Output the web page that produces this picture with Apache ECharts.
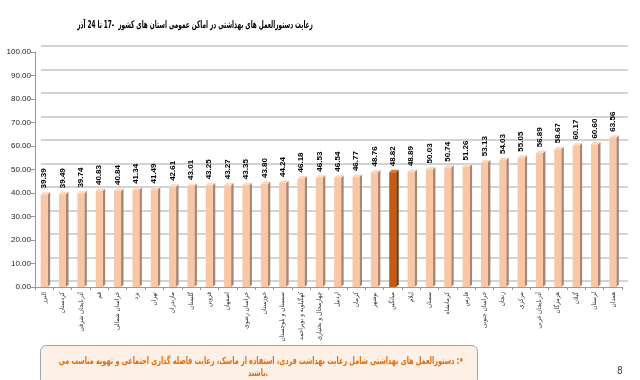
<!DOCTYPE html>
<html><head><meta charset="utf-8">
<script src="https://cdn.jsdelivr.net/npm/echarts@6/dist/echarts.min.js"></script>
<style>html,body{margin:0;padding:0;background:#fff}#c{width:640px;height:380px}</style>
</head><body><div id="c"></div>
<script>
const titleText = 'رعایت دستورالعمل های بهداشتی در اماکن عمومی استان های کشور  -17 تا 24 آذر';
const noteLine1 = '•: دستورالعمل های بهداشتی شامل رعایت بهداشت فردی، استفاده از ماسک، رعایت فاصله گذاری اجتماعی و تهویه مناسب می';
const noteLine2 = 'باشند.';
const pageNumber = '8';
const categories = ['البرز','کردستان','آذربایجان شرقی','قم','خراسان شمالی','یزد','تهران','مازندران','گلستان','قزوین','اصفهان','خراسان رضوی','خوزستان','سیستان و بلوچستان','کهگیلویه و بویراحمد','چهارمحال و بختیاری','اردبیل','کرمان','بوشهر','میانگین','ایلام','سمنان','کرمانشاه','فارس','خراسان جنوبی','زنجان','مرکزی','آذربایجان غربی','هرمزگان','گیلان','لرستان','همدان'];
const values = [39.39,39.49,39.74,40.83,40.84,41.34,41.49,42.61,43.01,43.25,43.27,43.35,43.80,44.24,46.18,46.53,46.54,46.77,48.76,48.82,48.89,50.03,50.74,51.26,53.13,54.03,55.05,56.89,58.67,60.17,60.60,63.56];
const highlightCategory = 'میانگین';
const yTicks = {min:0, max:100, interval:10};

const FRONT = '#f9c7a5', SIDE = '#a98672', TOP = '#fbd9c2';
const HFRONT = '#c55a11', HSIDE = '#7a3608', HTOP = '#d9782f';
const FONT = '"DejaVu Sans Condensed", "DejaVu Sans", sans-serif';
const RLM = '\u200F';

const chart = echarts.init(document.getElementById('c'), null, {renderer:'canvas'});
const barData = values.map((v,i)=>({value:v, itemStyle:{color: categories[i]===highlightCategory?HFRONT:FRONT}}));

chart.setOption({
  animation:false,
  textStyle:{fontFamily:FONT},
  grid:[
    {left:35, right:18, top:52, bottom:93},
    {left:41, right:12, top:46, bottom:99}
  ],
  xAxis:[
    {type:'category', data:categories, gridIndex:0,
      axisLine:{show:true, lineStyle:{color:'#999'}},
      axisTick:{show:true, alignWithLabel:false, length:3, lineStyle:{color:'#999'}},
      axisLabel:{rotate:90, interval:0, fontSize:6.5, color:'#333', margin:5, fontFamily:FONT,
        formatter:v=>RLM+v}},
    {type:'category', data:categories, gridIndex:1, show:false}
  ],
  yAxis:[
    {type:'value', gridIndex:0, min:yTicks.min, max:yTicks.max, interval:yTicks.interval,
      axisLine:{show:true, lineStyle:{color:'#999'}},
      axisTick:{show:true, length:4, lineStyle:{color:'#999'}},
      splitLine:{show:false},
      axisLabel:{fontSize:8, color:'#222', margin:4, fontFamily:'Liberation Sans, Arial, sans-serif', formatter:v=>v.toFixed(2)}},
    {type:'value', gridIndex:1, min:yTicks.min, max:yTicks.max, interval:yTicks.interval,
      axisLine:{show:false}, axisTick:{show:false}, axisLabel:{show:false},
      splitLine:{show:true, lineStyle:{color:'#c4c4c4', width:1.5}}}
  ],
  series:[
    {type:'custom', xAxisIndex:0, yAxisIndex:0, data:values.map((v,i)=>[i,v]), z:2,
      renderItem:function(params, api){
        const i = api.value(0), v = api.value(1);
        const top = api.coord([i, v]);
        const base = api.coord([i, 0]);
        const w = 7, d = 2.5;
        const hl = categories[i]===highlightCategory;
        const xr = top[0] + w/2, xl = top[0] - w/2;
        return {type:'group', children:[
          {type:'polygon', shape:{points:[[xr,top[1]],[xr+d,top[1]-d],[xr+d,base[1]-d],[xr,base[1]]]},
            style:{fill: hl?HSIDE:SIDE}},
          {type:'polygon', shape:{points:[[xl,top[1]],[xl+d,top[1]-d],[xr+d,top[1]-d],[xr,top[1]]]},
            style:{fill: hl?HTOP:TOP}}
        ]};
      }
    },
    {type:'bar', xAxisIndex:0, yAxisIndex:0, data:barData, barWidth:7, z:3,
      label:{show:true, position:'top', rotate:90, align:'left', verticalAlign:'middle', distance:6,
        fontSize:8, color:'#000', fontWeight:'bold', fontFamily:'Liberation Sans, Arial, sans-serif',
        formatter:p=>p.value.toFixed(2)}}
  ],
  graphic:[
    {type:'text', x:195, y:25, scaleX:0.61, style:{text:RLM+titleText, align:'center', verticalAlign:'middle', fill:'#000', font:'bold 10.5px '+FONT}},
    {type:'rect', left:40, top:345, shape:{width:437, height:40, r:6},
      style:{fill:'#fdf0e6', stroke:'#9aa4ad', lineWidth:1}},
    {type:'text', x:261, y:361, scaleX:0.72, style:{text:RLM+noteLine1, align:'center', verticalAlign:'middle', fill:'#e36c0a', font:'bold 10px '+FONT}},
    {type:'text', x:258, y:373, scaleX:0.72, style:{text:RLM+noteLine2, align:'center', verticalAlign:'middle', fill:'#e36c0a', font:'bold 10px '+FONT}},
    {type:'text', x:617, y:366, style:{text:pageNumber, fill:'#444', font:'10px '+FONT}}
  ]
});
</script></body></html>
